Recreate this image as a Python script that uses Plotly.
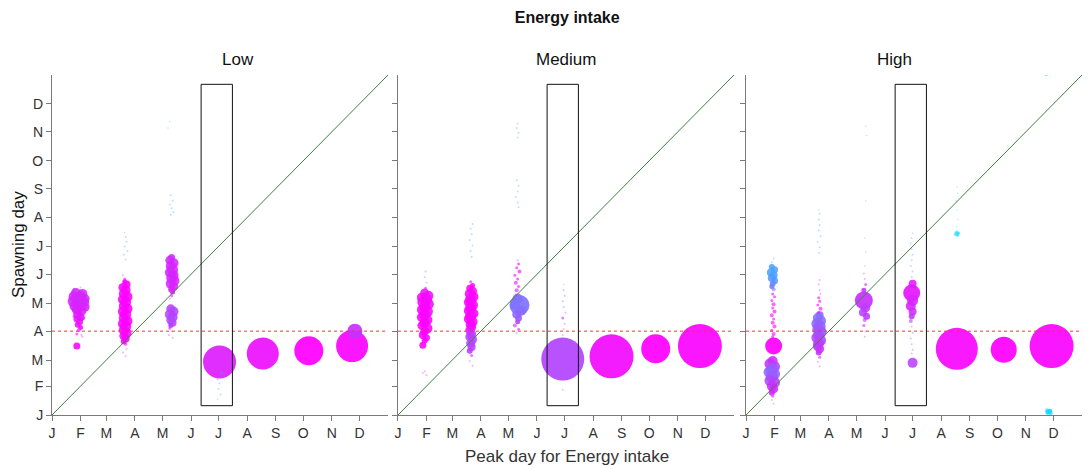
import plotly.graph_objects as go

# ---------------- data ----------------
MONTH_DAYS = [0, 31, 59, 90, 120, 151, 181, 212, 243, 273, 304, 334]
MONTH_LABELS = ["J", "F", "M", "A", "M", "J", "J", "A", "S", "O", "N", "D"]
PANEL_NAMES = ["Low", "Medium", "High"]
DIAGONAL = [0, 365]
THRESHOLD_DAY = 90
WINDOW_X = [162, 196]
WINDOW_Y = [10, 355]

# (peak day, spawning day, weight, colour value 0=cyan .. 1=magenta)
low_points = [
    (26,131,10,.84),(33,130,10,.82),(24,127,11,.85),(31,127,11,.83),(36,125,9,.84),(23,122,11,.84),
    (29,122,12,.82),(35,121,10,.83),(25,117,11,.85),(31,117,11,.83),(36,116,9,.85),(27,113,10,.86),
    (32,112,10,.85),(28,108,9,.88),(31,105,8,.9),(27,103,7,.9),(30,100,7,.92),(28,97,6,.93),(31,94,5,.95),
    (29,91,4,.95),(27,87,3,.95),(32,86,2,.9),(27,74,7,1),(24,135,3,.75),(31,137,2,.7),(34,104,4,.9),
    (24,106,3,.9),(33,84,2,.9),
    (79,143,5,1),(81,140,8,1),(77,137,9,.98),(80,134,10,1),(78,130,10,.98),(82,127,10,1),(77,124,10,.97),
    (80,121,11,1),(78,117,10,.98),(82,114,10,1),(77,111,10,.97),(80,108,11,1),(78,104,10,.98),(82,101,10,1),
    (77,98,10,.98),(80,95,11,1),(78,91,10,.97),(81,88,10,1),(78,85,9,.98),(80,82,8,1),(78,79,6,.97),
    (80,76,3,.95),(81,71,2,.9),(77,67,2,.88),(80,63,2,.85),(79,146,3,.95),(77,150,2,.9),
    (80,167,2,.35),(78,172,2,.3),(82,176,2,.3),(79,181,2,.35),(81,186,2,.3),(80,191,2,.3),(79,196,1.5,.3),
    (130,169,7,.8),(128,166,9,.82),(132,163,10,.82),(129,160,10,.83),(131,156,11,.84),(128,153,10,.82),
    (132,150,10,.85),(130,147,11,.84),(133,144,10,.85),(129,141,10,.83),(132,138,9,.85),(130,135,7,.85),
    (131,132,5,.85),(130,128,3,.85),(128,125,2,.85),
    (129,114,9,.72),(132,111,10,.7),(128,108,10,.7),(131,105,10,.72),(129,102,9,.68),(131,99,8,.7),
    (129,96,5,.75),(128,93,3,.85),(130,90,2,.85),(127,86,2,.88),(131,83,2,.88),
    (129,236,2,.3),(131,230,2,.3),(128,226,2,.3),(130,222,2,.35),(132,218,2,.3),(129,215,2,.3),
    (128,315,1.5,.3),(126,308,1.5,.3),
    (182,57,33,.87),
    (180,38,2,.45),(182,34,2,.4),(181,28,2,.4),(183,22,2,.4),(180,17,1.5,.4),(184,45,3,.5),
    (229,66,32,.93),
    (279,69,29,1),
    (326,74,32,.98),(329,90,15,.78),
]

medium_points = [
    (29,131,9,.92),(33,128,10,.95),(26,126,10,.97),(31,124,11,.95),(27,121,11,.97),(33,119,11,.95),
    (29,116,11,.98),(26,113,10,1),(32,111,11,.97),(29,108,11,.98),(26,105,10,1),(32,102,10,.97),
    (29,99,10,1),(26,96,9,1),(32,93,10,.97),(29,90,9,1),(27,86,8,1),(31,83,7,.97),(29,80,6,1),(27,75,7,1),
    (30,136,3,.85),(31,142,2,.6),(29,148,2,.5),(30,154,2,.45),(29,47,2,.85),(31,43,2,.85),(27,45,2,.85),
    (79,143,3,.95),(81,139,5,1),(78,136,7,.98),(81,133,9,1),(78,130,10,.97),(82,127,10,1),(79,124,11,.98),
    (77,121,10,1),(81,118,11,.97),(79,115,11,1),(77,112,10,.98),(82,109,10,1),(79,106,11,.97),(77,103,10,1),
    (81,100,10,.98),(79,97,10,1),(80,94,9,.97),(78,91,9,.9),(80,87,9,.8),(78,84,9,.75),(81,81,9,.72),
    (79,77,9,.7),(80,73,8,.72),(78,69,6,.75),(80,64,3,.85),(78,58,2,.85),(81,53,2,.85),
    (80,170,2,.35),(79,176,2,.3),(81,182,2,.3),(78,188,2,.35),(80,194,2,.3),(79,200,2,.3),(81,205,2,.3),
    (132,118,20,.5),
    (130,125,10,.52),(134,112,10,.52),(129,108,9,.55),(127,118,10,.5),(131,104,7,.6),(130,100,5,.7),
    (127,96,4,.8),(131,92,3,.85),(129,88,2,.9),
    (129,134,4,.95),(131,138,3,1),(128,142,4,.95),(130,146,3,1),(127,150,3,.95),(132,154,4,1),
    (129,158,3,.95),(131,162,3,1),(130,166,2,.95),
    (130,313,2,.3),(129,308,2,.3),(131,303,2,.3),(130,298,2,.3),(129,252,2,.3),(131,246,2,.3),
    (130,240,2,.3),(128,234,2,.3),(130,228,2,.3),(131,223,2,.3),
    (179,60,43,.7),
    (180,134,2,.75),(181,128,2,.75),(179,122,2,.75),(180,116,2,.75),(182,110,2,.72),(179,104,3,.75),
    (181,98,2,.75),(180,92,2,.75),(179,86,2,.75),(179,27,2,.4),(180,140,1.5,.5),
    (232,63,44,.95),
    (280,71,29,1),
    (328,74,44,.98),
    (332,366,1.5,.4),
]

high_points = [
    (28,159,6,.3),(31,156,7,.3),(27,153,8,.28),(30,150,8,.3),(28,147,8,.32),(31,144,7,.33),(29,141,6,.38),
    (28,138,5,.45),(30,135,4,.5),(28,164,2,.3),(30,168,2,.3),
    (29,130,3,.95),(31,127,3,1),(28,123,3,.95),(30,119,4,1),(29,115,3,.95),(31,111,4,1),(28,107,4,1),
    (30,103,3,.95),(29,99,4,1),(31,95,4,1),(28,91,3,1),(30,87,4,1),(29,84,3,1),
    (30,74,17,1),
    (29,58,10,.82),(26,55,11,.78),(31,52,11,.72),(28,49,12,.6),(25,46,11,.55),(31,44,11,.58),(28,41,12,.6),
    (26,37,11,.68),(31,35,11,.72),(28,31,10,.78),(30,28,9,.82),(28,24,6,.85),(29,20,3,.8),(28,16,2,.7),
    (30,12,2,.6),
    (80,107,8,.55),(78,104,10,.5),(81,101,11,.52),(77,98,11,.55),(80,95,12,.58),(78,92,11,.6),(81,89,12,.62),
    (79,86,11,.65),(77,83,11,.68),(81,80,11,.7),(79,77,11,.72),(78,74,10,.75),(80,71,9,.78),(79,67,6,.8),
    (80,62,3,.85),(78,57,2,.85),(80,52,2,.85),
    (79,110,3,.95),(81,114,4,1),(78,118,3,.95),(80,122,3,1),(79,126,3,.95),(81,130,2,1),(80,134,2,.95),
    (79,140,2,.9),(80,145,2,.85),
    (79,174,2,.3),(80,180,2,.3),(78,186,2,.3),(81,192,2,.3),(79,198,2,.3),(80,204,2,.3),(79,210,2,.3),
    (80,216,2,.3),(79,220,1.5,.3),
    (128,123,18,.78),(130,115,9,.75),(127,110,8,.72),(131,106,7,.75),(129,102,4,.8),(128,96,3,.85),
    (130,90,2,.85),(129,84,2,.85),(128,134,5,.8),(130,140,3,.85),(129,146,2,.85),(128,152,2,.8),
    (129,160,1.5,.5),(130,175,1.5,.35),(129,190,1.5,.3),(130,230,1.5,.3),(131,300,1.5,.3),(130,310,1.5,.3),
    (180,131,17,.9),(181,123,11,.85),(179,117,10,.85),(181,111,8,.8),(180,106,6,.75),(179,101,4,.72),
    (181,141,8,.9),(180,95,2,.7),(181,88,2,.7),(179,82,2,.7),(180,76,2,.7),(181,70,2,.7),(180,66,2,.7),
    (181,56,10,.72),
    (180,148,2,.45),(181,154,2,.4),(179,160,2,.4),(180,166,2,.38),(181,172,2,.35),(180,178,2,.35),
    (179,184,2,.3),(180,190,2,.3),(181,195,1.5,.3),
    (229,196,4,.05),(228,194,4,.05),(231,195,3,.1),(230,193,3,.05),
    (229,202,1.5,.15),(230,210,1.5,.15),(229,220,1.5,.15),(228,230,1.5,.15),(230,238,1.5,.15),(229,245,1.5,.15),
    (229,71,42,.97),
    (280,70,26,1),
    (332,74,44,.98),
    (326,366,4,.05),
    (328,3,5,.05),(330,4,5,.05),(327,5,4,.05),(331,2,4,.08),
]

# ---------------- figure ----------------
FONT = "Liberation Sans, Arial, sans-serif"
COLORSCALE = [[0, "rgb(0,229,255)"], [1, "rgb(255,0,255)"]]

def opacity_for(w):
    if w <= 2:
        return 0.35
    if w <= 4:
        return 0.6
    if w <= 12:
        return 0.88
    return 0.93

fig = go.Figure()
panels = [low_points, medium_points, high_points]
domains = [[0.0, 0.3262], [0.3359, 0.6621], [0.6738, 1.0]]

for i, pts in enumerate(panels):
    sfx = "" if i == 0 else str(i + 1)
    fig.add_trace(go.Scatter(
        x=[p[0] for p in pts], y=[p[1] for p in pts], mode="markers",
        marker=dict(size=[p[2] for p in pts], sizemode="diameter",
                    color=[p[3] for p in pts], cmin=0, cmax=1, colorscale=COLORSCALE,
                    opacity=[opacity_for(p[2]) for p in pts], line=dict(width=0)),
        xaxis="x" + sfx, yaxis="y" + sfx, showlegend=False, hoverinfo="x+y"))
    xr, yr = "x" + sfx, "y" + sfx
    fig.add_shape(type="line", xref=xr, yref=yr, x0=DIAGONAL[0], y0=DIAGONAL[0],
                  x1=DIAGONAL[1], y1=DIAGONAL[1], line=dict(color="#3f7f3f", width=1))
    fig.add_shape(type="line", xref=xr, yref=yr, x0=DIAGONAL[0], x1=DIAGONAL[1],
                  y0=THRESHOLD_DAY, y1=THRESHOLD_DAY, line=dict(color="#ff3030", width=1, dash="dot"))
    fig.add_shape(type="rect", xref=xr, yref=yr, x0=WINDOW_X[0], x1=WINDOW_X[1],
                  y0=WINDOW_Y[0], y1=WINDOW_Y[1], line=dict(color="#111111", width=1))
    axis_common = dict(range=[0, 365], showgrid=False, zeroline=False, showline=True,
                       linecolor="#7a7a7a", linewidth=1, ticks="outside", ticklen=5,
                       tickcolor="#7a7a7a", tickvals=MONTH_DAYS, ticktext=MONTH_LABELS,
                       tickfont=dict(size=14, color="#333333", family=FONT), fixedrange=True)
    fig.layout["xaxis" + sfx] = go.layout.XAxis(domain=domains[i], anchor="y" + sfx, **axis_common)
    fig.layout["yaxis" + sfx] = go.layout.YAxis(domain=[0, 1], anchor="x" + sfx,
                                                showticklabels=(i == 0), **axis_common)
    fig.add_annotation(text=PANEL_NAMES[i], xref="paper", yref="paper",
                       x=sum(domains[i]) / 2, y=1, yanchor="bottom", yshift=4, showarrow=False,
                       font=dict(size=17, color="#111111", family=FONT))

fig.add_annotation(text="Peak day for Energy intake", xref="paper", yref="paper", x=0.5, y=0,
                   yshift=-41, yanchor="middle", showarrow=False,
                   font=dict(size=17, color="#333333", family=FONT))
fig.add_annotation(text="Spawning day", xref="paper", yref="paper", x=0, xshift=-34, y=0.5,
                   textangle=-90, xanchor="center", yanchor="middle", showarrow=False,
                   font=dict(size=17, color="#111111", family=FONT))

fig.update_layout(
    width=1088, height=469,
    margin=dict(l=52, r=6, t=75, b=54),
    paper_bgcolor="white", plot_bgcolor="white",
    title=dict(text="<b>Energy intake</b>", x=0.5213, xanchor="center", y=1 - 17 / 469,
               yanchor="middle", font=dict(size=16, color="#111111", family=FONT)),
    showlegend=False,
)

fig.write_html("out.html", config={"displayModeBar": False},
               post_script="document.body.style.margin='0px';document.body.style.padding='0px';")
